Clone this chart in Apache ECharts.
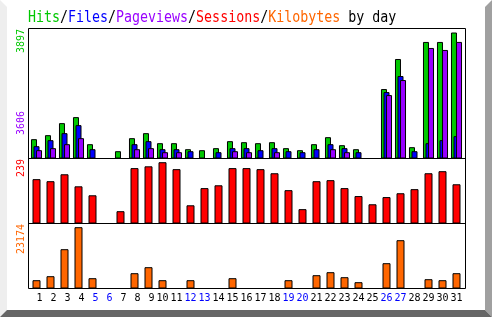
<!DOCTYPE html>
<html>
<head>
<meta charset="utf-8">
<script src="https://cdn.jsdelivr.net/npm/echarts@6/dist/echarts.min.js"></script>
<style>
html,body{margin:0;padding:0;background:#fff;}
#chart{width:492px;height:317px;}
</style>
</head>
<body>
<div id="chart"></div>
<script>
const days = ['1','2','3','4','5','6','7','8','9','10','11','12','13','14','15','16','17','18','19','20','21','22','23','24','25','26','27','28','29','30','31'];
const weekendDays = ['5','6','12','13','19','20','26','27'];
const hits = [598,722,1094,1280,443,0,226,629,784,474,474,288,257,320,536,505,474,505,320,257,443,660,412,288,0,2148,3078,350,3605,3605,3897];
const files = [381,567,784,1032,288,0,0,443,536,288,288,226,0,195,320,320,257,320,226,195,288,443,320,195,0,2055,2551,226,474,567,691];
const pageviews = [258,320,443,629,0,0,0,288,320,195,195,0,0,0,226,195,0,195,0,0,0,288,195,0,0,1962,2427,0,3419,3357,3606];
const sessions = [173,165,192,145,110,0,48,216,223,239,212,71,138,149,216,216,212,196,130,56,165,169,138,107,75,103,118,134,196,204,153];
const kbytes = [3138,4650,14856,23174,3894,0,0,5784,8051,3138,0,3138,0,0,3894,0,0,0,3138,0,5027,6161,4271,2381,0,9563,18257,0,3515,3138,5784];

const C = {hits:'#00c800', files:'#0000ff', pages:'#9900ff', sess:'#ff0000', kb:'#ff6600'};
const nz = a => a.map(v => v === 0 ? null : v);
const mono = '"DejaVu Sans Mono", monospace';

const chart = echarts.init(document.getElementById('chart'));
const gridL = 29.5, gridW = 434;
const grids = [
  {left: gridL, width: gridW, top: 28.5, height: 130},
  {left: gridL, width: gridW, top: 158.5, height: 65},
  {left: gridL, width: gridW, top: 223.5, height: 65}
];
const xAxes = grids.map((g, i) => ({
  type: 'category', gridIndex: i, data: days, boundaryGap: true,
  axisLine: {show: false}, axisTick: {show: false},
  axisLabel: i < 2 ? {show: false} : {
    show: true, interval: 0, margin: 5, fontFamily: mono, fontSize: 10,
    formatter: v => v.length < 2 ? ' ' + v : v,
    color: v => weekendDays.indexOf(String(v).trim()) >= 0 ? '#0000ff' : '#000000'
  }
}));
const maxes = [4021, 253.5, 24570];
const yAxes = maxes.map((m, i) => ({
  type: 'value', gridIndex: i, min: 0, max: m,
  axisLine: {show: false}, axisTick: {show: false}, axisLabel: {show: false}, splitLine: {show: false}
}));
const barBase = {type: 'bar', barWidth: 6, barGap: '-58%', itemStyle: {borderColor: '#000', borderWidth: 1}};

const bdr = {stroke: '#000', lineWidth: 1, fill: null};
const ylab = (txt, color, x, y) => ({
  type: 'text', x: x, y: y, rotation: Math.PI / 2, z: 20,
  style: {text: txt, fill: color, font: '10px ' + mono, align: 'center', verticalAlign: 'middle'}
});

chart.setOption({
  animation: false,
  backgroundColor: '#ffffff',
  grid: grids,
  xAxis: xAxes,
  yAxis: yAxes,
  series: [
    Object.assign({}, barBase, {name: 'Hits', xAxisIndex: 0, yAxisIndex: 0, data: nz(hits), itemStyle: {color: C.hits, borderColor: '#000', borderWidth: 1}}),
    Object.assign({}, barBase, {name: 'Files', xAxisIndex: 0, yAxisIndex: 0, data: nz(files), itemStyle: {color: C.files, borderColor: '#000', borderWidth: 1}}),
    Object.assign({}, barBase, {name: 'Pageviews', xAxisIndex: 0, yAxisIndex: 0, data: nz(pageviews), itemStyle: {color: C.pages, borderColor: '#000', borderWidth: 1}}),
    {type: 'bar', name: 'Sessions', xAxisIndex: 1, yAxisIndex: 1, barWidth: 8, data: nz(sessions), itemStyle: {color: C.sess, borderColor: '#000', borderWidth: 1}},
    {type: 'bar', name: 'Kilobytes', xAxisIndex: 2, yAxisIndex: 2, barWidth: 8, data: nz(kbytes), itemStyle: {color: C.kb, borderColor: '#000', borderWidth: 1}}
  ],
  graphic: [
    {type: 'polygon', z: 1, shape: {points: [[0,0],[7,7],[7,310],[0,317]]}, style: {fill: '#eeeeee'}},
    {type: 'polygon', z: 1, shape: {points: [[485,7],[492,0],[492,317],[485,310]]}, style: {fill: '#a0a0a0'}},
    {type: 'polygon', z: 1, shape: {points: [[0,317],[7,310],[485,310],[492,317]]}, style: {fill: '#666666'}},
    {type: 'rect', z: 10, shape: {x: 28.5, y: 28.5, width: 437, height: 260}, style: bdr},
    {type: 'line', z: 10, shape: {x1: 28.5, y1: 158.5, x2: 465.5, y2: 158.5}, style: {stroke: '#000', lineWidth: 1}},
    {type: 'line', z: 10, shape: {x1: 28.5, y1: 223.5, x2: 465.5, y2: 223.5}, style: {stroke: '#000', lineWidth: 1}},
    {type: 'text', x: 28, y: 17.5, scaleY: 1.2, z: 20, style: {
      text: '{g|Hits}{k|/}{b|Files}{k|/}{p|Pageviews}{k|/}{r|Sessions}{k|/}{o|Kilobytes}{k| by day}',
      font: '13.3px ' + mono, verticalAlign: 'middle', align: 'left',
      rich: {
        g: {fill: C.hits, font: '13.3px ' + mono},
        b: {fill: C.files, font: '13.3px ' + mono},
        p: {fill: C.pages, font: '13.3px ' + mono},
        r: {fill: C.sess, font: '13.3px ' + mono},
        o: {fill: C.kb, font: '13.3px ' + mono},
        k: {fill: '#000', font: '13.3px ' + mono}
      }
    }},
    ylab(String(Math.max(...hits)), C.hits, 21.7, 41),
    ylab(String(Math.max(...pageviews)), C.pages, 21.7, 123),
    ylab(String(Math.max(...sessions)), C.sess, 21.7, 168),
    ylab(String(Math.max(...kbytes)), C.kb, 21.7, 239)
  ]
});
</script>
</body>
</html>
